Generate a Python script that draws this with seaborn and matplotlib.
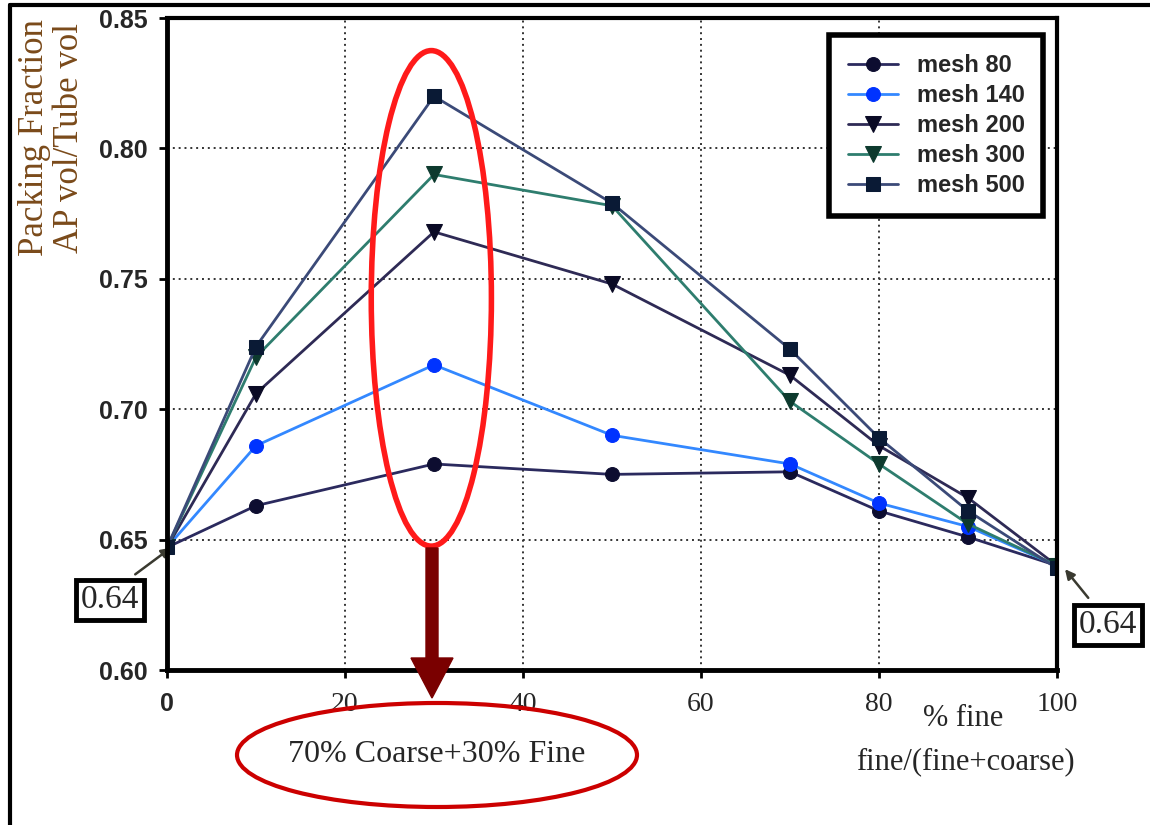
import matplotlib
matplotlib.use("Agg")
import matplotlib.pyplot as plt
import seaborn as sns
import pandas as pd
from matplotlib.patches import Ellipse, FancyArrow

# ---- data ----
fine_pct = [0, 10, 30, 50, 70, 80, 90, 100]
mesh_80 = [0.647, 0.663, 0.679, 0.675, 0.676, 0.661, 0.651, 0.640]
mesh_140 = [0.647, 0.686, 0.717, 0.690, 0.679, 0.664, 0.655, 0.640]
mesh_200 = [0.647, 0.706, 0.768, 0.748, 0.713, 0.686, 0.666, 0.640]
mesh_300 = [0.647, 0.720, 0.790, 0.778, 0.703, 0.679, 0.656, 0.640]
mesh_500 = [0.647, 0.724, 0.820, 0.779, 0.723, 0.689, 0.661, 0.639]
series_names = ["mesh 80", "mesh 140", "mesh 200", "mesh 300", "mesh 500"]
x_ticks = [0, 20, 40, 60, 80, 100]
y_ticks = [0.60, 0.65, 0.70, 0.75, 0.80, 0.85]

sns.set_theme(style="white")
plt.rcParams['font.family'] = ['Liberation Sans', 'DejaVu Sans']

fig = plt.figure(figsize=(11.5, 8.25), dpi=100)
ax = fig.add_axes([167/1150, 1-670/825, (1057-167)/1150, (670-18)/825])

styles = [
    dict(color="#2b2a5e", marker="o", mfc="#0d0d30", ms=10),
    dict(color="#3388ff", marker="o", mfc="#0033ff", ms=10),
    dict(color="#2e2a55", marker="v", mfc="#0a0a25", ms=11),
    dict(color="#2e7d6e", marker="v", mfc="#0d3a2e", ms=11),
    dict(color="#3b4a78", marker="s", mfc="#0a1a35", ms=10),
]
all_series = [mesh_80, mesh_140, mesh_200, mesh_300, mesh_500]
for name, vals, st in zip(series_names, all_series, styles):
    df = pd.DataFrame({"x": fine_pct, "y": vals})
    sns.lineplot(data=df, x="x", y="y", ax=ax, color=st["color"], marker=st["marker"],
                 markerfacecolor=st["mfc"], markeredgecolor=st["mfc"], markersize=st["ms"],
                 linewidth=2, label=name, zorder=3)

ax.set_xlim(0, 100)
ax.set_ylim(0.60, 0.85)
ax.set_xticks(x_ticks)
ax.set_yticks(y_ticks)
ax.set_yticklabels([f"{v:.2f}" for v in y_ticks], fontsize=18, fontweight="bold")
ax.set_xticklabels([str(v) for v in x_ticks], fontsize=20, family="Liberation Serif")
lab0 = ax.get_xticklabels()[0]
lab0.set_family("Liberation Sans")
lab0.set_fontweight("bold")
lab0.set_fontsize(18)
ax.set_xlabel("")
ax.set_ylabel("")
ax.tick_params(axis="y", direction="out", length=6, width=2, color="black", pad=8, left=True)
ax.tick_params(axis="x", direction="out", length=6, width=2, color="black", pad=10, bottom=True)

ax.grid(True, linestyle=(0, (1, 2)), color="#333333", linewidth=1.4)
for s in ["left", "bottom"]:
    ax.spines[s].set_linewidth(3.5)
for s in ["top", "right"]:
    ax.spines[s].set_linewidth(3)
for s in ax.spines.values():
    s.set_color("black")
    s.set_zorder(5)

leg = ax.legend(loc="upper right", bbox_to_anchor=(0.998, 0.992), frameon=True, fancybox=False,
                framealpha=1.0,
                prop={"weight": "bold", "size": 17, "family": "Liberation Sans"},
                handlelength=2.1, labelspacing=0.3, borderpad=0.8, handletextpad=0.8)
leg.get_frame().set_edgecolor("black")
leg.get_frame().set_linewidth(4)

# y label (two lines)
fig.text(35/1150, 1-138/825, "Packing Fraction", rotation=90, ha="center", va="center",
         family="Liberation Serif", fontsize=25, color="#7a4a1a")
fig.text(70/1150, 1-138/825, "AP vol/Tube vol", rotation=90, ha="center", va="center",
         family="Liberation Serif", fontsize=25, color="#7a4a1a")

# x label
fig.text(963/1150, 1-718/825, "% fine", ha="center", va="center", family="Liberation Serif", fontsize=22)
fig.text(965/1150, 1-762/825, "fine/(fine+coarse)", ha="center", va="center", family="Liberation Serif", fontsize=22)

# red ellipse around x=30
ax.add_patch(Ellipse((29.7, 0.7425), 13.5, 0.19, fill=False, edgecolor="#ff1a1a", linewidth=4, zorder=6, clip_on=False))

# dark red arrow down (figure pixels)
fig.patches.append(FancyArrow(432/1150, 1-548/825, 0, -150/825, width=12/1150,
                              head_width=42/1150, head_length=40/825, length_includes_head=True,
                              color="#7a0000", transform=fig.transFigure, figure=fig))

# bottom ellipse with text
fig.patches.append(Ellipse((437/1150, 1-755/825), 400/1150, 104/825, fill=False, edgecolor="#cc0000",
                           linewidth=3, transform=fig.transFigure, figure=fig))
fig.text(437/1150, 1-755/825, "70% Coarse+30% Fine", ha="center", va="center",
         family="Liberation Serif", fontsize=23)

# 0.64 boxes
fig.text(110/1150, 1-600/825, "0.64", ha="center", va="center", family="Liberation Serif", fontsize=24,
         bbox=dict(boxstyle="square,pad=0.15", fc="white", ec="black", lw=3.5))
fig.text(1108/1150, 1-625/825, "0.64", ha="center", va="center", family="Liberation Serif", fontsize=24,
         bbox=dict(boxstyle="square,pad=0.15", fc="white", ec="black", lw=3.5))
ax.annotate("", xy=(0.7, 0.6475), xycoords="data", xytext=(133/1150, 1-576/825), textcoords="figure fraction",
            arrowprops=dict(arrowstyle="-|>", color="#3a3a30", lw=1.8, mutation_scale=14), annotation_clip=False)
ax.annotate("", xy=(100.7, 0.6395), xycoords="data", xytext=(1090/1150, 1-600/825), textcoords="figure fraction",
            arrowprops=dict(arrowstyle="-|>", color="#3a3a30", lw=1.8, mutation_scale=14), annotation_clip=False)

# outer frame lines (left and top)
fig.lines.append(plt.Line2D([10/1150, 10/1150], [0, 1-5/825], transform=fig.transFigure, color="black", lw=3))
fig.lines.append(plt.Line2D([10/1150, 1], [1-5/825, 1-5/825], transform=fig.transFigure, color="black", lw=3))

fig.savefig("out.png", dpi=100, facecolor="white")
